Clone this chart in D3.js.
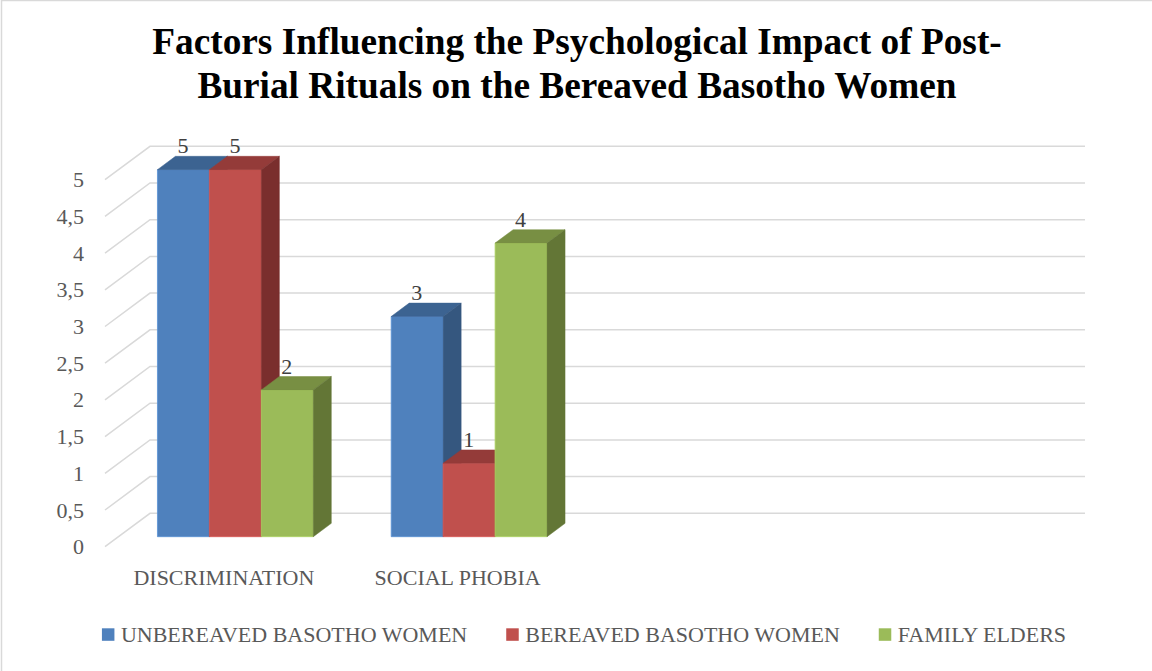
<!DOCTYPE html>
<html>
<head>
<meta charset="utf-8">
<script src="https://cdn.jsdelivr.net/npm/d3@7"></script>
<style>
  html, body { margin: 0; padding: 0; background: #ffffff; }
  svg { display: block; }
</style>
</head>
<body>
<svg id="chart" width="1152" height="671"></svg>
<script>
// ---- data ----
const titleLines = ["Factors Influencing the Psychological Impact of Post-", "Burial Rituals on the Bereaved Basotho Women"];
const categories = ["DISCRIMINATION", "SOCIAL PHOBIA", "", ""];
const seriesNames = ["UNBEREAVED BASOTHO WOMEN", "BEREAVED BASOTHO WOMEN", "FAMILY ELDERS"];
const unbereaved = [5, 3, null, null];
const bereaved = [5, 1, null, null];
const familyElders = [2, 4, null, null];
const yTicks = [0, 0.5, 1, 1.5, 2, 2.5, 3, 3.5, 4, 4.5, 5];

const seriesValues = [unbereaved, bereaved, familyElders];
const frontColors = ["#4f81bd", "#c0504d", "#9bbb59"];
const topColors = ["#3c6391", "#943b39", "#788f43"];
const sideColors = ["#35577f", "#7a2e2d", "#637636"];

const svg = d3.select("#chart");
const SERIF = "'Liberation Serif', 'Times New Roman', serif";
const GREY = "#595959";

// chart border
svg.append("rect").attr("x", 1.5).attr("y", 0.5).attr("width", 1170).attr("height", 700)
  .attr("fill", "#ffffff").attr("stroke", "#d9d9d9").attr("stroke-width", 1.5);

// ---- title ----
svg.append("g").selectAll("text").data(titleLines).join("text")
  .attr("x", 577).attr("y", (d, i) => 54 + i * 43.5)
  .attr("text-anchor", "middle")
  .attr("font-family", SERIF).attr("font-weight", "bold").attr("font-size", 37.3)
  .attr("fill", "#000000").text(d => d);

// ---- 3D geometry ----
const DX = 45, DY = -33.4;           // full depth offset of the floor
const barD0 = 0.3, barD1 = 0.7;      // bar depth range (fraction)
const x = d3.scaleBand().domain(d3.range(categories.length)).range([105, 1040]).paddingInner(0).paddingOuter(0);
const y = d3.scaleLinear().domain([0, 5]).range([546.7, 179.7]);
const barW = x.bandwidth() / 4.5;
const groupOffset = barW * 0.75;
const proj = (px, v, d) => [px + DX * d, y(v) + DY * d];

// gridlines on back wall + side wall
const grid = svg.append("g").attr("stroke", "#d9d9d9").attr("stroke-width", 1.5).attr("fill", "none");
yTicks.forEach(t => {
  const a = proj(x.range()[0], t, 0), b = proj(x.range()[0], t, 1), c = proj(x.range()[1], t, 1);
  grid.append("path").attr("d", `M${a[0]},${a[1]}L${b[0]},${b[1]}L${c[0]},${c[1]}`);
});

// y tick labels
svg.append("g").selectAll("text").data(yTicks).join("text")
  .attr("x", 84).attr("y", d => y(d) + 7.5)
  .attr("text-anchor", "end")
  .attr("font-family", SERIF).attr("font-size", 22).attr("fill", GREY)
  .text(d => String(d).replace(".", ","));

// bars
const bars = svg.append("g");
const labels = svg.append("g");
categories.forEach((cat, ci) => {
  seriesValues.forEach((vals, si) => {
    const v = vals[ci];
    if (v === null || v === undefined) return;
    const x0 = x(ci) + groupOffset + si * barW;
    const x1 = x0 + barW;
    const fb = proj(x0, 0, barD0), fb2 = proj(x1, 0, barD0);
    const ft = proj(x0, v, barD0), ft2 = proj(x1, v, barD0);
    const bt = proj(x0, v, barD1), bt2 = proj(x1, v, barD1);
    const bb2 = proj(x1, 0, barD1);
    const poly = pts => "M" + pts.map(p => p.join(",")).join("L") + "Z";
    // front
    bars.append("path").attr("d", poly([fb, fb2, ft2, ft]))
      .attr("fill", frontColors[si]).attr("stroke", d3.color(frontColors[si]).brighter(0.35)).attr("stroke-width", 0.8);
    // top
    bars.append("path").attr("d", poly([ft, ft2, bt2, bt]))
      .attr("fill", topColors[si]).attr("stroke", topColors[si]).attr("stroke-width", 0.5);
    // side
    bars.append("path").attr("d", poly([fb2, bb2, bt2, ft2]))
      .attr("fill", sideColors[si]).attr("stroke", sideColors[si]).attr("stroke-width", 0.5);
    // data label
    labels.append("text")
      .attr("x", (x0 + x1) / 2 + DX * barD0 - 0.5)
      .attr("y", y(v) + DY * barD1 - 3)
      .attr("text-anchor", "middle")
      .attr("font-family", SERIF).attr("font-size", 22).attr("fill", "#404040")
      .text(v);
  });
});

// category labels
svg.append("g").selectAll("text").data(categories).join("text")
  .attr("x", (d, i) => x(i) + x.bandwidth() / 2 + 2)
  .attr("y", 585)
  .attr("text-anchor", "middle")
  .attr("font-family", SERIF).attr("font-size", 22).attr("fill", GREY)
  .text(d => d);

// legend
const legend = svg.append("g");
const items = legend.selectAll("g").data(seriesNames).join("g");
items.append("rect").attr("width", 12.5).attr("height", 12.5).attr("y", 628.3)
  .attr("fill", (d, i) => frontColors[i]);
items.append("text").attr("x", 19).attr("y", 642.3)
  .attr("font-family", SERIF).attr("font-size", 22).attr("fill", GREY)
  .text(d => d);
const widths = [];
items.each(function() { widths.push(19 + d3.select(this).select("text").node().getComputedTextLength()); });
const gap = 39;
const total = d3.sum(widths) + gap * (widths.length - 1);
let cx = 584 - total / 2;
items.each(function(d, i) {
  d3.select(this).attr("transform", `translate(${cx},0)`);
  cx += widths[i] + gap;
});
</script>
</body>
</html>
